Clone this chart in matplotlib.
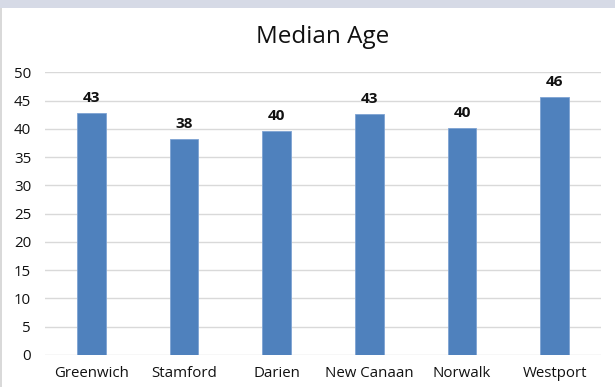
import matplotlib.pyplot as plt
from matplotlib.patches import Rectangle

towns = ["Greenwich", "Stamford", "Darien", "New Canaan", "Norwalk", "Westport"]
median_age = [42.85, 38.2, 39.7, 42.6, 40.2, 45.7]
yticks = [0, 5, 10, 15, 20, 25, 30, 35, 40, 45, 50]

plt.rcParams['font.family'] = ['Open Sans', 'DejaVu Sans']

fig = plt.figure(figsize=(6.15, 3.87), dpi=100)
fig.patch.set_facecolor("white")

# grey strip along the top and thin frame on the left
fig.add_artist(Rectangle((0, 1 - 8 / 387), 1, 8 / 387, transform=fig.transFigure,
                         facecolor="#d6dae6", edgecolor="none"))
fig.add_artist(Rectangle((0, 0), 1.5 / 615, 1 - 8 / 387, transform=fig.transFigure,
                         facecolor="#d9d9d9", edgecolor="none"))

ax = fig.add_axes([45 / 615, 1 - 355 / 387, 556 / 615, (355 - 72.3) / 387])

xaxis = list(range(len(towns)))
bars = ax.bar(xaxis, median_age, width=0.31, color="#4f81bd",
              edgecolor="#7ea3d3", linewidth=0.6, zorder=3)

for x, v in zip(xaxis, median_age):
    ax.text(x, v + 1.4, "%.0f" % v, ha="center", va="bottom",
            fontsize=11, fontweight="bold", color="#111111")

ax.set_xlim(-0.5, len(towns) - 0.5)
ax.set_ylim(0, 50)
ax.set_yticks(yticks)
ax.set_xticks(xaxis)
ax.set_xticklabels(towns)
ax.tick_params(axis="both", length=0, labelsize=10.8, colors="#111111")
ax.tick_params(axis="x", pad=8)
ax.tick_params(axis="y", pad=10)
ax.grid(axis="y", color="#d9d9d9", linewidth=1, zorder=0)
for s in ax.spines.values():
    s.set_visible(False)

fig.text((45 + 556 / 2) / 615, 1 - 37 / 387, "Median Age", ha="center", va="center",
         fontsize=17.5, color="#111111")

plt.savefig("out.png", dpi=100)
